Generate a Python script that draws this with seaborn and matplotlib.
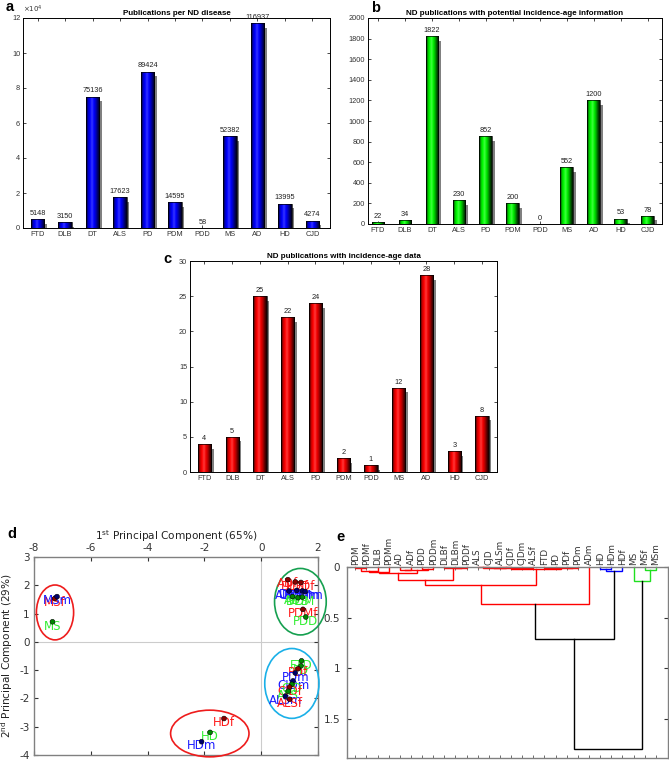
import matplotlib
matplotlib.use("Agg")
import matplotlib.pyplot as plt
from matplotlib.colors import LinearSegmentedColormap
from matplotlib.patches import Ellipse
import numpy as np
import pandas as pd
import seaborn as sns

diseases = ["FTD", "DLB", "DT", "ALS", "PD", "PDM", "PDD", "MS", "AD", "HD", "CJD"]
pubs_total = [5148, 3150, 75136, 17623, 89424, 14595, 58, 52382, 116937, 13995, 4274]
pubs_potential = [22, 34, 1822, 230, 852, 200, 0, 552, 1200, 53, 78]
pubs_incidence = [4, 5, 25, 22, 24, 2, 1, 12, 28, 3, 8]

# PCA scores (1st / 2nd component)
pca_labels = ["MS", "MSf", "MSm", "HDf", "HD", "HDm",
              "ADf", "DLBf", "PDDf", "PDMf", "ADm", "DLBm", "PDDm", "PDMm",
              "AD", "DLB", "PDM", "PDD",
              "FTD", "PD", "PDf", "PDm", "CJDm", "CJD", "CJDf", "ALS", "ALSm", "ALSf"]
pc1 = [-7.35, -7.27, -7.19, -1.31, -1.80, -2.10,
       0.94, 1.20, 1.40, 1.47, 0.98, 1.25, 1.45, 1.55,
       1.10, 1.30, 1.45, 1.57,
       1.42, 1.40, 1.30, 1.20, 1.12, 1.08, 1.00, 0.95, 0.85, 1.00]
pc2 = [0.71, 1.53, 1.60, -2.71, -3.20, -3.53,
       2.20, 2.12, 2.10, 1.15, 1.80, 1.82, 1.80, 1.78,
       1.60, 1.56, 1.58, 0.88,
       -0.67, -0.85, -0.95, -1.10, -1.38, -1.50, -1.60, -1.75, -1.92, -2.03]

# dendrogram (panel e): leaf order and merges (name, left, right, height)
leaf_order = ["PDM", "PDMf", "DLB", "PDMm", "AD", "ADf", "PDD", "PDDm", "DLBf", "DLBm",
              "PDDf", "ALS", "CJD", "ALSm", "CJDf", "CJDm", "ALSf", "FTD", "PD", "PDf",
              "PDm", "ADm", "HD", "HDm", "HDf", "MS", "MSf", "MSm"]
merges = [
    ("a1", "PDM", "PDMf", 0.012), ("a2", "a1", "DLB", 0.04), ("a3", "a2", "PDMm", 0.05),
    ("b1", "AD", "ADf", 0.025), ("b2", "PDD", "PDDm", 0.015), ("b3", "b1", "b2", 0.032),
    ("ab", "a3", "b3", 0.06), ("c1", "DLBm", "PDDf", 0.005), ("c2", "DLBf", "c1", 0.01),
    ("abc", "ab", "c2", 0.13),
    ("d1", "ALS", "CJD", 0.004), ("d2", "ALSm", "CJDf", 0.004), ("d3", "d1", "d2", 0.006),
    ("d4", "CJDm", "ALSf", 0.005), ("d5", "d3", "d4", 0.01), ("d6", "FTD", "PD", 0.008),
    ("d7", "PDf", "PDm", 0.006), ("d8", "d6", "d7", 0.012), ("d9", "d5", "d8", 0.018),
    ("abcd", "abc", "d9", 0.18), ("r", "abcd", "ADm", 0.37),
    ("h1", "HD", "HDm", 0.015), ("h2", "h1", "HDf", 0.04),
    ("m1", "MSf", "MSm", 0.03), ("m2", "MS", "m1", 0.14),
    ("rh", "r", "h2", 0.71), ("root", "rh", "m2", 1.80),
]
cluster_colors = {"r": "#ff0000", "h2": "#0000ff", "m2": "#1fe01f"}

plt.rcParams["font.family"] = ["Liberation Sans", "DejaVu Sans"]
W, H = 669, 760
fig = plt.figure(figsize=(W / 100, H / 100), dpi=100)


def rect(x0, y0, x1, y1):
    return [x0 / W, 1 - y1 / H, (x1 - x0) / W, (y1 - y0) / H]


def bar_panel(box, values, colors, ymax, yticks, yticklabels, title, xlim):
    ax = fig.add_axes(rect(*box))
    df = pd.DataFrame({"disease": diseases, "n": values})
    sns.barplot(data=df, x="disease", y="n", color=colors[2], width=0.48,
                edgecolor="black", linewidth=0.5, ax=ax, zorder=3)
    bars = ax.containers[0]
    ax.bar_label(bars, labels=[str(v) for v in values], padding=1.5, fontsize=5.3, color="#222222")
    off = 0.022 * ymax
    ax.bar(np.arange(len(values)) + 0.09, np.clip(np.array(values) - off, 0, None),
           width=0.48, color="#808080", linewidth=0, zorder=2)
    cmap = LinearSegmentedColormap.from_list("g", colors)
    grad = np.linspace(0, 1, 64).reshape(1, -1)
    for p in bars.patches:
        h = p.get_height()
        if h <= 0:
            continue
        im = ax.imshow(grad, extent=[p.get_x(), p.get_x() + p.get_width(), 0, h],
                       aspect="auto", cmap=cmap, zorder=3.5, interpolation="bilinear")
        im.set_clip_path(p)
        p.set_facecolor("none")
        p.set_zorder(4)
    ax.set_xlim(*xlim)
    ax.set_ylim(0, ymax)
    ax.set_yticks(yticks, labels=yticklabels)
    ax.set_xlabel("")
    ax.set_ylabel("")
    ax.tick_params(direction="in", length=2.5, width=0.5, top=True, right=True,
                   labelsize=5.3, labelcolor="#333333", pad=2)
    for s in ax.spines.values():
        s.set_linewidth(0.7)
    ax.set_title(title, fontsize=5.8, fontweight="bold", pad=2.5)
    return ax


blue = ["#000008", "#0000c0", "#0000ff", "#3535ff", "#0000ff", "#0000b8", "#000060", "#000010"]
green = ["#000800", "#00c000", "#00ff00", "#40ff40", "#00f000", "#00a800", "#005000", "#001000"]
red = ["#080000", "#c00000", "#ff0000", "#ff3a3a", "#f00000", "#b00000", "#580000", "#100000"]

ax_a = bar_panel((23, 18, 330, 228), pubs_total, blue, 120000,
                 list(range(0, 120001, 20000)), [str(v) for v in range(0, 13, 2)],
                 "Publications per ND disease", (-0.53, 10.64))
ax_a.text(0, 1.012, r"$\times10^{4}$", transform=ax_a.transAxes, fontsize=5,
          ha="left", va="bottom", color="#333333")
bar_panel((368, 18, 662, 224), pubs_potential, green, 2000,
          list(range(0, 2001, 200)), [str(v) for v in range(0, 2001, 200)],
          "ND publications with potential incidence-age information", (-0.37, 10.52))
bar_panel((190, 261, 497, 472), pubs_incidence, red, 30,
          list(range(0, 31, 5)), [str(v) for v in range(0, 31, 5)],
          "ND publications with incidence-age data", (-0.52, 10.54))

# panel d: PCA
dj = "DejaVu Sans"
ax_d = fig.add_axes(rect(34, 557, 318, 755))
pca = pd.DataFrame({"label": pca_labels, "pc1": pc1, "pc2": pc2})
pca["group"] = ["f" if l.endswith("f") else "m" if l.endswith("m") else "t" for l in pca_labels]
text_pal = {"f": "#ff1a1a", "m": "#1a1aff", "t": "#33ee33"}
dot_pal = {"f": "#8b0000", "m": "#00006b", "t": "#008800"}
ax_d.axhline(0, color="#cccccc", lw=0.8, zorder=0)
ax_d.axvline(0, color="#cccccc", lw=0.8, zorder=0)
for _, r in pca.iterrows():
    ax_d.text(r.pc1, r.pc2 - 0.15, r.label, color=text_pal[r.group], ha="center",
              va="center", fontsize=8.5, family=dj, zorder=4)
sns.scatterplot(data=pca, x="pc1", y="pc2", hue="group", palette=dot_pal, s=12,
                edgecolor="black", linewidth=0.4, legend=False, ax=ax_d, zorder=5)
ellipses = [((-7.26, 1.04), 1.31, 1.94, "#ee1c1c"), ((1.38, 1.42), 1.82, 2.35, "#16a050"),
            ((1.08, -1.47), 1.91, 2.47, "#1ab0e8"), ((-1.81, -3.24), 2.76, 1.65, "#ee1c1c")]
for c, w, h, col in ellipses:
    ax_d.add_patch(Ellipse(c, w, h, fill=False, ec=col, lw=1.2, clip_on=False, zorder=3))
ax_d.set_xlim(-8, 2)
ax_d.set_ylim(-4, 3)
ax_d.xaxis.tick_top()
ax_d.xaxis.set_label_position("top")
ax_d.set_xticks(range(-8, 3, 2), labels=[str(v) for v in range(-8, 3, 2)], family=dj)
ax_d.set_yticks(range(-4, 4), labels=[str(v) for v in range(-4, 4)], family=dj)
ax_d.tick_params(direction="in", length=3, width=0.8, top=True, bottom=True, left=True, right=True,
                 labelsize=7.5, labelcolor="#333333", color="#333333", pad=3)
ax_d.set_xlabel(r"1$^{\mathrm{st}}$ Principal Component (65%)", fontsize=7.6, family=dj,
                color="#222222", labelpad=2)
ax_d.set_ylabel(r"2$^{\mathrm{nd}}$ Principal Component (29%)", fontsize=7.6, family=dj,
                color="#222222", labelpad=3)
for s in ax_d.spines.values():
    s.set_color("#808080")
    s.set_linewidth(1)

# panel e: dendrogram
ax_e = fig.add_axes(rect(347, 567, 668, 758))
node = {name: (i + 1, 0.0) for i, name in enumerate(leaf_order)}
children = {}
for name, left, right, h in merges:
    node[name] = ((node[left][0] + node[right][0]) / 2, h)
    children[name] = (left, right)
link_color = {}


def paint(name, color):
    if name not in children:
        return
    link_color[name] = color
    for ch in children[name]:
        paint(ch, color)


for root_name, col in cluster_colors.items():
    paint(root_name, col)
for name, left, right, h in merges:
    xl, hl = node[left]
    xr, hr = node[right]
    ax_e.plot([xl, xl, xr, xr], [hl, h, h, hr], color=link_color.get(name, "black"),
              lw=1.0, solid_joinstyle="miter", clip_on=False)
ax_e.set_xlim(0.25, 29.1)
ax_e.set_ylim(1.89, 0)
ax_e.set_xticks(range(1, len(leaf_order) + 1), labels=leaf_order, rotation=90,
                family=dj, fontsize=6.4)
ax_e.set_yticks([0, 0.5, 1, 1.5], labels=["0", "0.5", "1", "1.5"], family=dj, fontsize=7.5)
ax_e.tick_params(axis="x", direction="in", length=2.5, width=0.6, top=True, bottom=True,
                 labeltop=True, labelbottom=False, pad=1.5, color="#555555", labelcolor="#333333")
ax_e.tick_params(axis="y", direction="in", length=3, width=0.8, left=True, right=True,
                 pad=5, color="#333333", labelcolor="#333333")
for s in ax_e.spines.values():
    s.set_color("#808080")
    s.set_linewidth(1)

# panel letters
for letter, (x, y) in {"a": (10, 7), "b": (376, 8), "c": (167, 259),
                       "d": (12, 534), "e": (341, 537)}.items():
    fig.text(x / W, 1 - y / H, letter, fontsize=10.5, fontweight="bold",
             ha="center", va="center")

fig.savefig("out.png", dpi=100)
